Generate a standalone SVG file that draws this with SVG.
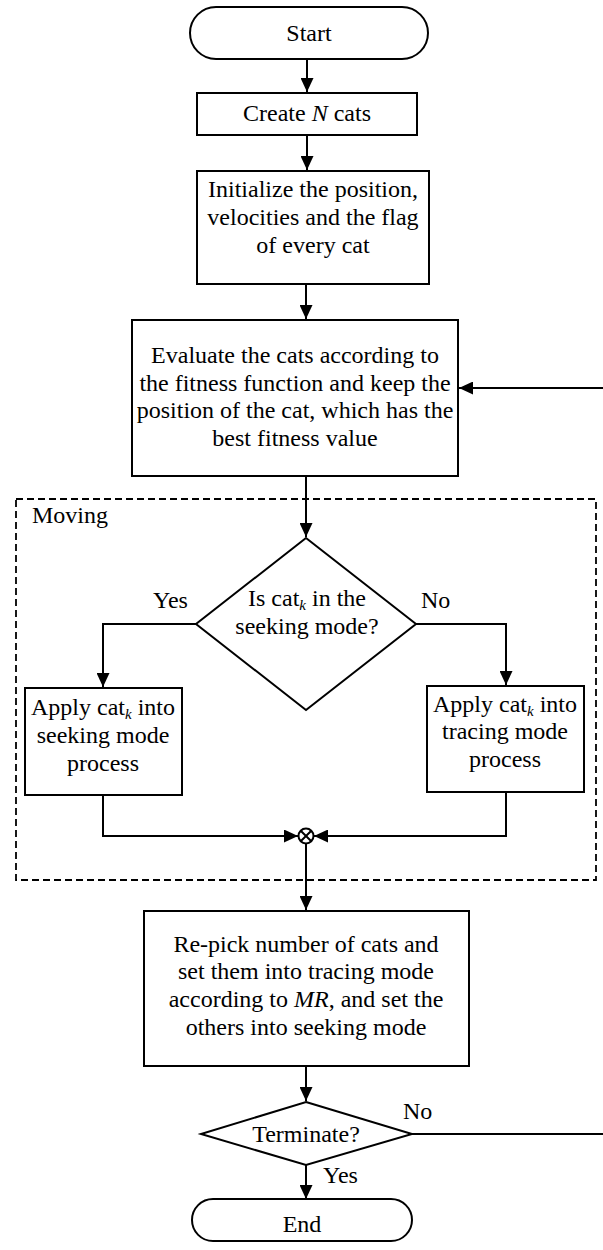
<svg xmlns="http://www.w3.org/2000/svg" width="603" height="1250" viewBox="0 0 603 1250">
<style>
.s{fill:#fff;stroke:#000;stroke-width:2}
.c{fill:none;stroke:#000;stroke-width:2}
.d{fill:none;stroke:#000;stroke-width:1.8;stroke-dasharray:7,4}
text{font-family:"Liberation Serif","Times New Roman",serif;font-size:24px;fill:#000}
.m{text-anchor:middle}
.i{font-style:italic}
.k{font-style:italic;font-size:15px}
</style>
<defs>
<marker id="a" markerUnits="userSpaceOnUse" markerWidth="14" markerHeight="13" refX="14" refY="6.5" orient="auto">
<path d="M0,0 L14,6.5 L0,13 z" fill="#000"/>
</marker>
</defs>
<rect id="moving" class="d" x="16" y="499" width="580" height="381"/>
<text x="32" y="523">Moving</text>
<g id="connectors">
<path class="c" d="M307,59 V92" marker-end="url(#a)"/>
<path class="c" d="M307,135 V170" marker-end="url(#a)"/>
<path class="c" d="M306,284 V319" marker-end="url(#a)"/>
<path class="c" d="M306,476 V537" marker-end="url(#a)"/>
<path class="c" d="M196,624 H103 V687" marker-end="url(#a)"/>
<path class="c" d="M416,624 H506 V685" marker-end="url(#a)"/>
<path class="c" d="M103,795 V836 H298" marker-end="url(#a)"/>
<path class="c" d="M506,792 V836 H314" marker-end="url(#a)"/>
<path class="c" d="M306,844 V910" marker-end="url(#a)"/>
<path class="c" d="M306,1066 V1101" marker-end="url(#a)"/>
<path class="c" d="M306,1165 V1199" marker-end="url(#a)"/>
<path class="c" d="M412,1134 H603"/>
<path class="c" d="M603,388 H459" marker-end="url(#a)"/>
<text x="153" y="608">Yes</text>
<text x="421" y="608">No</text>
<text x="403" y="1119">No</text>
<text x="323" y="1183">Yes</text>
</g>
<g id="start">
<rect class="s" x="190" y="7" width="238" height="52" rx="26" ry="26"/>
<text class="m" x="309" y="41">Start</text>
</g>
<g id="create">
<rect class="s" x="197" y="93" width="220" height="42"/>
<text class="m" x="307" y="121">Create <tspan class="i">N</tspan> cats</text>
</g>
<g id="init">
<rect class="s" x="197" y="171" width="232" height="113"/>
<text class="m" x="313" y="197">Initialize the position,</text>
<text class="m" x="313" y="225">velocities and the flag</text>
<text class="m" x="313" y="253">of every cat</text>
</g>
<g id="evaluate">
<rect class="s" x="132" y="320" width="326" height="156"/>
<text class="m" x="295" y="363">Evaluate the cats according to</text>
<text class="m" x="295" y="391">the fitness function and keep the</text>
<text class="m" x="295" y="418">position of the cat, which has the</text>
<text class="m" x="295" y="446">best fitness value</text>
</g>
<g id="decision">
<polygon class="s" points="306,538 416,624 306,710 196,624"/>
<text class="m" x="307" y="606">Is cat<tspan class="k" dy="4">k</tspan><tspan dy="-4"> in the</tspan></text>
<text class="m" x="307" y="634">seeking mode?</text>
</g>
<g id="seeking">
<rect class="s" x="25" y="688" width="157" height="107"/>
<text class="m" x="103" y="715">Apply cat<tspan class="k" dy="4">k</tspan><tspan dy="-4"> into</tspan></text>
<text class="m" x="103" y="743">seeking mode</text>
<text class="m" x="103" y="771">process</text>
</g>
<g id="tracing">
<rect class="s" x="427" y="686" width="157" height="106"/>
<text class="m" x="505" y="712">Apply cat<tspan class="k" dy="4">k</tspan><tspan dy="-4"> into</tspan></text>
<text class="m" x="505" y="739">tracing mode</text>
<text class="m" x="505" y="767">process</text>
</g>
<g id="merge">
<circle class="s" cx="306" cy="836" r="7.5" stroke-width="1.5"/>
<path class="c" stroke-width="1.5" d="M300.7,830.7 L311.3,841.3 M311.3,830.7 L300.7,841.3"/>
</g>
<g id="repick">
<rect class="s" x="144" y="911" width="325" height="155"/>
<text class="m" x="306" y="952">Re-pick number of cats and</text>
<text class="m" x="306" y="979">set them into tracing mode</text>
<text class="m" x="306" y="1007">according to <tspan class="i">MR</tspan>, and set the</text>
<text class="m" x="306" y="1035">others into seeking mode</text>
</g>
<g id="terminate">
<polygon class="s" points="306,1102 412,1134 306,1165 201,1134"/>
<text class="m" x="306" y="1142">Terminate?</text>
</g>
<g id="end">
<rect class="s" x="192" y="1199" width="220" height="42" rx="21" ry="21"/>
<text class="m" x="302" y="1232">End</text>
</g>
</svg>
